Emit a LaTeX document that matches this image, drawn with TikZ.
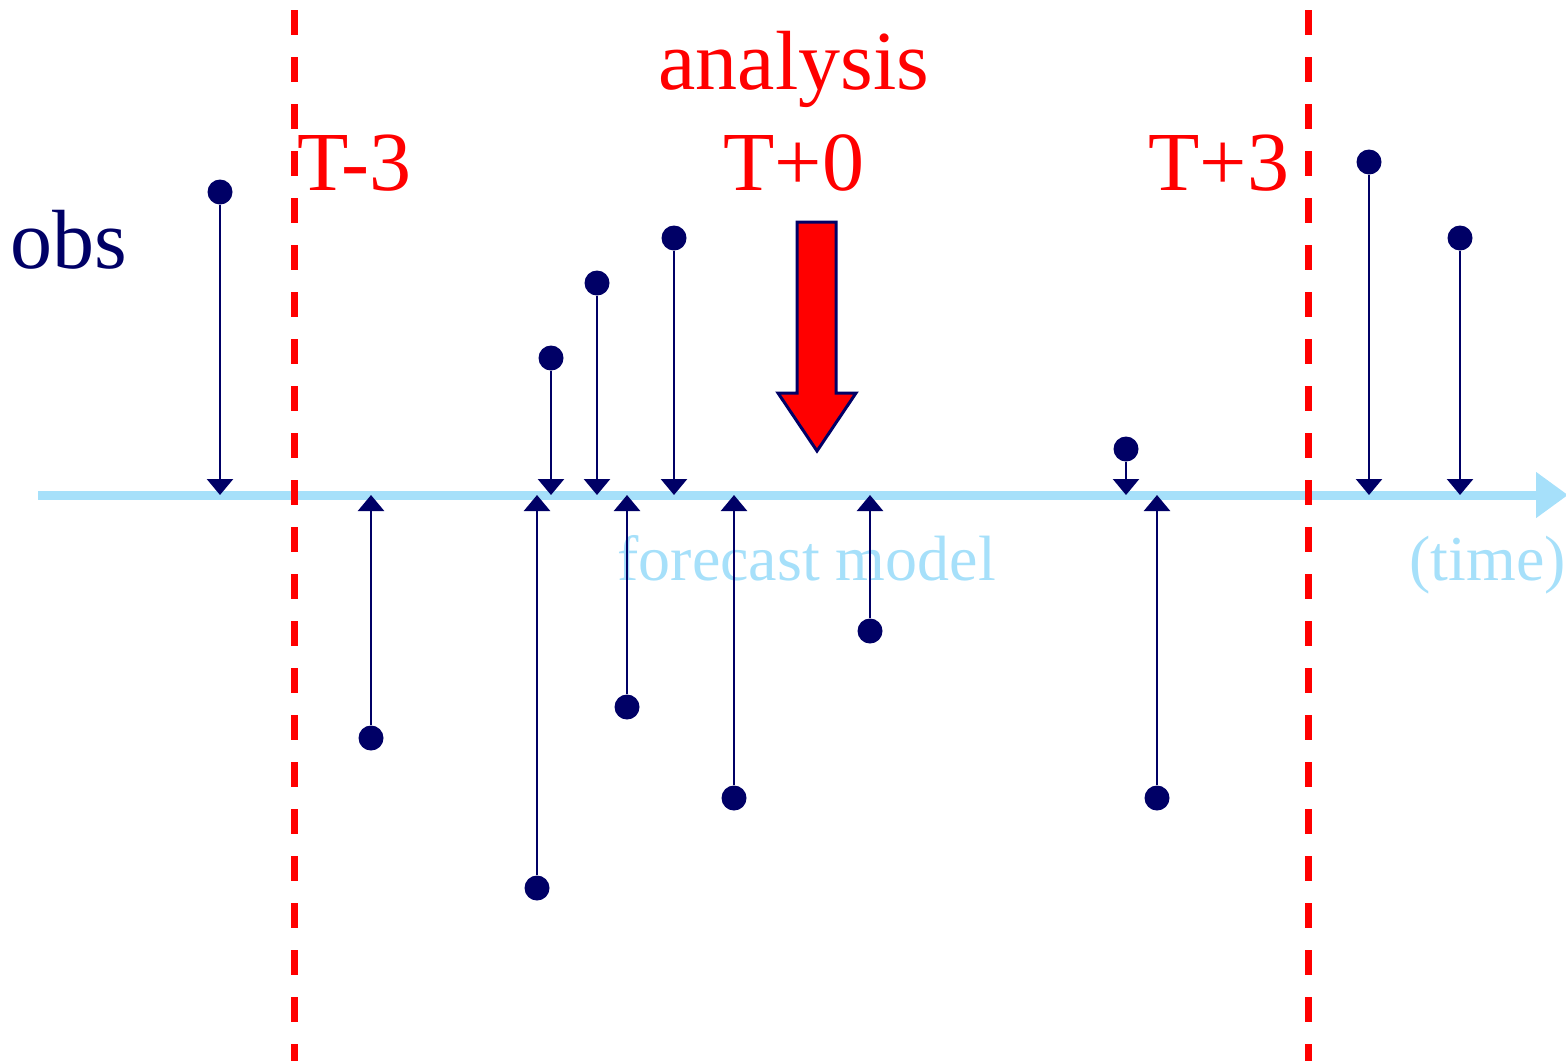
\documentclass[tikz,border=0pt]{standalone}
\usepackage{fontspec}
\setmainfont{Liberation Serif}
\usetikzlibrary{arrows.meta}
\definecolor{navy}{RGB}{0,0,102}
\definecolor{skyblue}{RGB}{166,224,250}
\begin{document}
\begin{tikzpicture}[x=0.5pt,y=-0.5pt,
    obsdot/.style={circle,fill=navy,inner sep=0pt,minimum size=12.5pt},
    obsarrow/.style={navy,line width=1.25pt,-{Triangle[width=13pt,length=8pt]}},
    windowline/.style={red,line width=3.5pt,dash pattern=on 12.5pt off 11pt,dash phase=18.5pt},
    redlabel/.style={red,inner sep=0pt,font=\fontsize{42}{50}\selectfont},
    bluelabel/.style={skyblue,inner sep=0pt,font=\fontsize{32}{38}\selectfont}]
    \useasboundingbox (0,0) rectangle (1566,1061);
    % Sumbu waktu
    \coordinate (t0) at (38,495);
    \coordinate (t1) at (1568,495);
    \draw[skyblue,line width=4.5pt,-{Triangle[width=22pt,length=16pt]}] (t0) -- (t1);
    % Jendela asimilasi
    \coordinate (w1a) at (294,0);   \coordinate (w1b) at (294,1061);
    \coordinate (w2a) at (1308,0);  \coordinate (w2b) at (1308,1061);
    \draw[windowline] (w1a) -- (w1b);
    \draw[windowline] (w2a) -- (w2b);
    % Label
    \node[redlabel,anchor=base] (ana) at (794,89) {analysis};
    \node[redlabel,anchor=base] (tp0) at (794,190) {T+0};
    \node[redlabel,anchor=base west] (tm3) at (297,190) {T-3};
    \node[redlabel,anchor=base west] (tp3) at (1148,190) {T+3};
    \node[navy,inner sep=0pt,font=\fontsize{42}{50}\selectfont,anchor=base west] (obs) at (10,268) {obs};
    \node[bluelabel,anchor=base west] (fcm) at (617,580) {forecast model};
    \node[bluelabel,anchor=base west] (time) at (1409,580) {(time)};
    % Panah analisis
    \draw[navy,line width=1.5pt,fill=red] (797,222) -- (836,222) -- (836,393) -- (856,393)
        -- (817,451) -- (778,393) -- (797,393) -- cycle;
    % Observasi di atas dan di bawah model
    \foreach \x/\y [count=\i] in {220/192,551/358,597/283,674/238,1126/449,1369/162,1460/238,
        371/738,537/888,627/707,734/798,870/631,1157/798} {
        \node[obsdot] (o\i) at (\x,\y) {};
        \coordinate (a\i) at (\x,495);
        \draw[obsarrow] (o\i) -- (a\i);
    }
\end{tikzpicture}
\end{document}
